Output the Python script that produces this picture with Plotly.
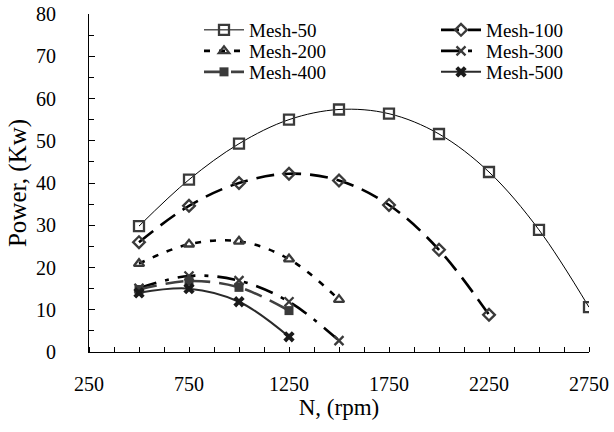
import plotly.graph_objects as go

# Rotational speed N (rpm) and power (kW) for each mesh size
rpm_50 = [500, 750, 1000, 1250, 1500, 1750, 2000, 2250, 2500, 2750]
power_50 = [29.8, 40.8, 49.3, 55.0, 57.4, 56.4, 51.6, 42.6, 28.9, 10.6]

rpm_100 = [500, 750, 1000, 1250, 1500, 1750, 2000, 2250]
power_100 = [26.0, 34.6, 40.0, 42.2, 40.6, 34.8, 24.2, 8.8]

rpm_200 = [500, 750, 1000, 1250, 1500]
power_200 = [20.9, 25.5, 26.2, 22.0, 12.4]

rpm_300 = [500, 750, 1000, 1250, 1500]
power_300 = [15.1, 18.0, 16.9, 11.9, 2.7]

rpm_400 = [500, 750, 1000, 1250]
power_400 = [14.8, 16.8, 15.3, 9.8]

rpm_500 = [500, 750, 1000, 1250]
power_500 = [14.0, 15.0, 11.9, 3.6]

x_ticks = [250, 750, 1250, 1750, 2250, 2750]
y_ticks = [0, 10, 20, 30, 40, 50, 60, 70, 80]

W, H = 614, 432
ML, MR, MT, MB = 89, 25, 14, 80
PW, PH = W - ML - MR, H - MT - MB
FONT = "Liberation Serif, Times New Roman, serif"
MK = "#3a3a3a"

series = [
    dict(name="Mesh-50", x=rpm_50, y=power_50,
         line=dict(color="black", width=1, dash="solid"),
         marker=dict(symbol="square-open", size=10, color=MK, line=dict(width=2.3, color=MK))),
    dict(name="Mesh-100", x=rpm_100, y=power_100,
         line=dict(color="black", width=2.6, dash="18px,9px"),
         marker=dict(symbol="diamond-open", size=9, color=MK, line=dict(width=2.3, color=MK))),
    dict(name="Mesh-200", x=rpm_200, y=power_200,
         line=dict(color="black", width=2.6, dash="6px,9px"),
         marker=dict(symbol="triangle-up-open", size=9, color=MK, line=dict(width=2.3, color=MK))),
    dict(name="Mesh-300", x=rpm_300, y=power_300,
         line=dict(color="black", width=2.6, dash="18px,9px,4px,9px"),
         marker=dict(symbol="x-thin", size=9, color=MK, line=dict(width=2.3, color=MK))),
    dict(name="Mesh-400", x=rpm_400, y=power_400,
         line=dict(color="#404040", width=2.6, dash="18px,9px"),
         marker=dict(symbol="square", size=9, color=MK, line=dict(width=0))),
    dict(name="Mesh-500", x=rpm_500, y=power_500,
         line=dict(color="#2a2a2a", width=2, dash="solid"),
         marker=dict(symbol="x", size=10, color="#1a1a1a", line=dict(width=0))),
]

# Two-column legend: each entry gets its own legend box (left column / right column)
legend_cols = [199, 436]      # left edge of each column, px
legend_rows = [30, 51, 72]    # vertical centre of each row, px

fig = go.Figure()
layout_legends = {}
for i, s in enumerate(series):
    key = "legend" if i == 0 else f"legend{i + 1}"
    col, row = i % 2, i // 2
    fig.add_trace(go.Scatter(
        x=s["x"], y=s["y"], name=s["name"], mode="lines+markers",
        line=dict(shape="spline", smoothing=1.0, **s["line"]),
        marker=s["marker"], legend=key,
    ))
    layout_legends[key] = dict(
        xref="paper", yref="paper",
        x=(legend_cols[col] - ML) / PW, y=(H - MB - legend_rows[row]) / PH,
        xanchor="left", yanchor="middle",
        font=dict(family=FONT, size=19, color="black"),
        bgcolor="rgba(0,0,0,0)", borderwidth=0, itemwidth=40,
    )

fig.update_layout(
    width=W, height=H,
    margin=dict(l=ML, r=MR, t=MT, b=MB, autoexpand=False),
    paper_bgcolor="white", plot_bgcolor="white",
    font=dict(family=FONT, size=20, color="black"),
    showlegend=True,
    xaxis=dict(
        range=[250, 2750], tickvals=x_ticks, ticktext=[str(v) for v in x_ticks],
        showgrid=False, zeroline=False, showline=True, linecolor="black", linewidth=1,
        ticks="outside", ticklen=0, tickfont=dict(size=20),
        ticklabelstandoff=14,
        minor=dict(dtick=125, tick0=250, ticks="inside", ticklen=5, tickcolor="black", showgrid=False),
        title=dict(text="N, (rpm)", font=dict(size=23), standoff=4),
    ),
    yaxis=dict(
        range=[0, 80], tickvals=y_ticks,
        showgrid=False, zeroline=False, showline=True, linecolor="black", linewidth=1,
        ticks="inside", ticklen=6, tickcolor="black", tickfont=dict(size=20),
        ticklabelstandoff=28,
        minor=dict(dtick=5, ticks="inside", ticklen=5, tickcolor="black", showgrid=False),
        title=dict(text="Power, (Kw)", font=dict(size=25), standoff=2),
    ),
    **layout_legends,
)

fig.write_html("out.html")
